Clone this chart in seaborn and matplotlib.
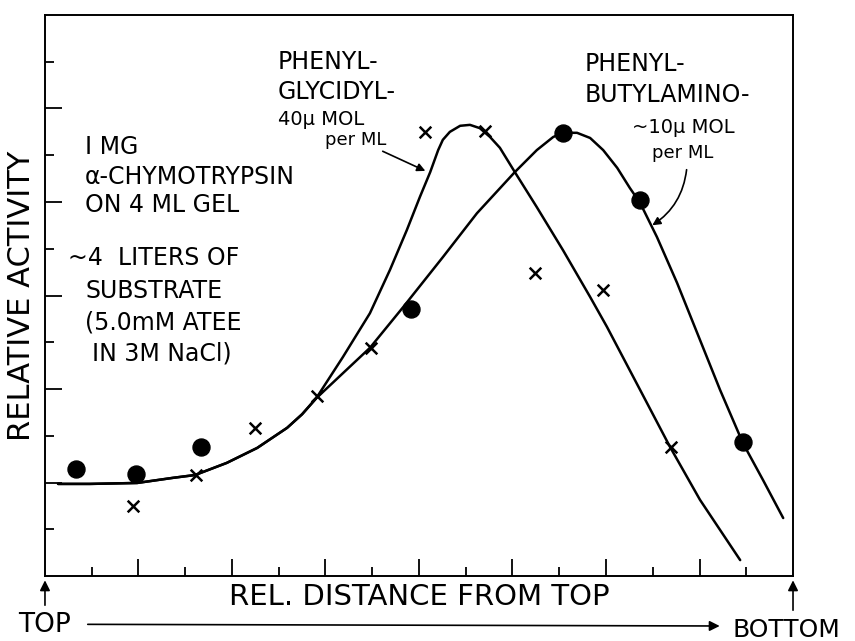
import numpy as np
import pandas as pd
import matplotlib
matplotlib.use("Agg")
import matplotlib.pyplot as plt
import seaborn as sns

dot_x = [0.66, 1.95, 3.34, 7.83, 11.08, 12.73, 14.93]
dot_y = [2.29, 2.18, 2.76, 5.71, 9.48, 8.04, 2.87]

cross_x = [1.88, 3.23, 4.49, 5.82, 6.97, 8.13, 9.41, 10.48, 11.94, 13.39]
cross_y = [1.50, 2.16, 3.17, 3.85, 4.88, 9.50, 9.52, 6.48, 6.12, 2.76]

# hand-drawn curves
shared_x = [0.28, 0.96, 1.97, 2.74, 3.21, 3.89, 4.54, 5.18, 5.50, 5.80]
shared_y = [1.97, 1.97, 1.99, 2.10, 2.16, 2.42, 2.74, 3.17, 3.46, 3.80]

glyc_x = shared_x + [6.37, 6.95, 7.38, 7.74, 8.02, 8.24, 8.41, 8.51, 8.66, 8.88,
                     9.09, 9.30, 9.52, 9.73, 10.05, 10.52, 11.08, 11.66, 12.02,
                     12.73, 13.37, 14.01, 14.87]
glyc_y = shared_y + [4.68, 5.62, 6.55, 7.40, 8.11, 8.64, 9.11, 9.33, 9.50, 9.63,
                     9.65, 9.58, 9.39, 9.16, 8.64, 7.89, 6.97, 5.97, 5.33,
                     3.98, 2.76, 1.63, 0.34]

buty_x = shared_x + [6.95, 7.66, 8.51, 9.24, 10.05, 10.52, 10.87, 11.08, 11.38,
                     11.66, 11.94, 12.24, 12.51, 12.73, 13.09, 13.52, 13.95,
                     14.44, 14.93, 15.36, 15.79]
buty_y = shared_y + [4.88, 5.75, 6.82, 7.76, 8.64, 9.11, 9.39, 9.48, 9.48,
                     9.37, 9.11, 8.73, 8.30, 7.98, 7.25, 6.27, 5.20,
                     3.98, 2.84, 2.05, 1.24]

sns.set_style("ticks")
plt.rcParams['font.family'] = ['DejaVu Sans']
plt.rcParams['text.color'] = 'black'
plt.rcParams['axes.labelcolor'] = 'black'

fig = plt.figure(figsize=(8.55, 6.41), dpi=100)
ax = fig.add_axes([0.0526, 0.1014, 0.8749, 0.8752])

curves = pd.DataFrame({'x': glyc_x, 'y': glyc_y})
sns.lineplot(data=curves, x='x', y='y', sort=False, estimator=None,
             color='black', lw=1.8, ax=ax)
curves2 = pd.DataFrame({'x': buty_x, 'y': buty_y})
sns.lineplot(data=curves2, x='x', y='y', sort=False, estimator=None,
             color='black', lw=1.8, ax=ax)

sns.scatterplot(x=dot_x, y=dot_y, marker='o', s=150, color='black',
                edgecolor='black', ax=ax, zorder=5)
sns.scatterplot(x=cross_x, y=cross_y, marker='x', s=70, color='black',
                linewidth=1.8, ax=ax, zorder=5)

ax.set_xlim(0, 16)
ax.set_ylim(0, 12)
ax.set_xticks(range(2, 16, 2))
ax.set_xticks(range(1, 16, 2), minor=True)
ax.set_yticks(range(2, 12, 2))
ax.set_yticks(range(1, 12, 2), minor=True)
ax.set_xticklabels([])
ax.set_yticklabels([])
ax.tick_params(which='major', direction='in', length=12, width=1.3, color='black')
ax.tick_params(which='minor', direction='in', length=6.5, width=1.3, color='black')
for s in ax.spines.values():
    s.set_linewidth(1.4)
    s.set_color('black')
ax.set_xlabel('')
ax.set_ylabel('RELATIVE ACTIVITY', fontsize=22, labelpad=3)

# left-hand notes
notes = [(0.86, 9.18, 'I MG'), (0.86, 8.53, 'α-CHYMOTRYPSIN'),
         (0.86, 7.94, 'ON 4 ML GEL'), (0.49, 6.80, '~4  LITERS OF'),
         (0.86, 6.10, 'SUBSTRATE'), (0.86, 5.43, '(5.0mM ATEE'),
         (1.00, 4.77, 'IN 3M NaCl)')]
for x, y, t in notes:
    ax.text(x, y, t, fontsize=17, va='center', ha='left')

# curve labels
ax.text(4.98, 10.99, 'PHENYL-', fontsize=17, va='center')
ax.text(4.98, 10.36, 'GLYCIDYL-', fontsize=17, va='center')
ax.text(4.98, 9.76, '40μ MOL', fontsize=14, va='center')
ax.text(5.99, 9.33, 'per ML', fontsize=13, va='center')
ax.annotate('', xy=(8.19, 8.64), xytext=(7.17, 9.11),
            arrowprops=dict(arrowstyle='-|>', lw=1.2, color='black', mutation_scale=12))

ax.text(11.55, 10.95, 'PHENYL-', fontsize=17, va='center')
ax.text(11.55, 10.29, 'BUTYLAMINO-', fontsize=17, va='center')
ax.text(12.56, 9.59, '~10μ MOL', fontsize=14, va='center')
ax.text(12.98, 9.04, 'per ML', fontsize=13, va='center')
ax.annotate('', xy=(12.94, 7.47), xytext=(13.73, 8.75),
            arrowprops=dict(arrowstyle='-|>', lw=1.2, color='black', mutation_scale=12,
                            connectionstyle='arc3,rad=-0.25'))

# bottom labels and arrows
fig.text(0.491, 0.0686, 'REL. DISTANCE FROM TOP', fontsize=21, ha='center', va='center')
fig.text(0.021, 0.025, 'TOP', fontsize=19, ha='left', va='center')
fig.text(0.857, 0.017, 'BOTTOM', fontsize=18, ha='left', va='center')
arr = dict(arrowstyle='-|>', lw=1.2, color='black', mutation_scale=15)
ax.annotate('', xy=(0.0526, 0.099), xytext=(0.0526, 0.0515),
            xycoords='figure fraction', textcoords='figure fraction', arrowprops=arr)
ax.annotate('', xy=(0.9275, 0.099), xytext=(0.9275, 0.0437),
            xycoords='figure fraction', textcoords='figure fraction', arrowprops=arr)
ax.annotate('', xy=(0.845, 0.0234), xytext=(0.0994, 0.0260),
            xycoords='figure fraction', textcoords='figure fraction', arrowprops=arr)

fig.savefig('out.png', dpi=100, facecolor='white')
